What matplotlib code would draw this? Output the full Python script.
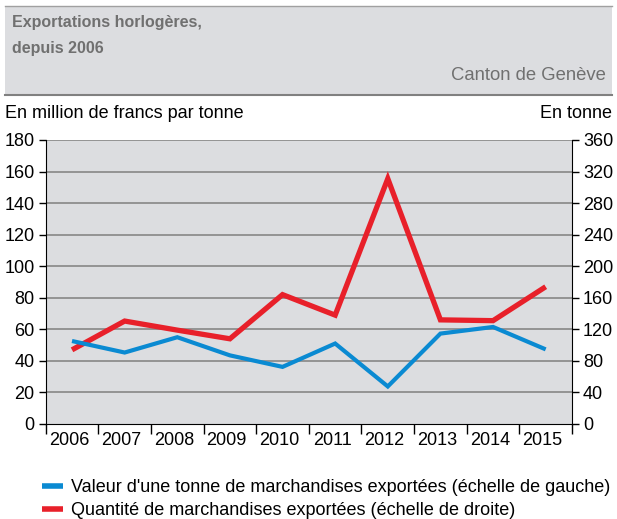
import numpy as np
import matplotlib
matplotlib.use("Agg")
import matplotlib.pyplot as plt
from matplotlib.patches import Rectangle
from matplotlib.lines import Line2D

plt.rcParams['font.family'] = ['Liberation Sans', 'DejaVu Sans']

years = ['2006', '2007', '2008', '2009', '2010', '2011', '2012', '2013', '2014', '2015']
# million francs per tonne (left axis)
valeur = [52.6, 45.3, 55.0, 43.5, 36.2, 51.0, 23.8, 57.3, 61.5, 47.3]
# tonnes (right axis)
quantite = [94, 130.5, 119, 108, 164, 138, 311, 132, 131, 174]

title = "Exportations horlogères,\ndepuis 2006"
subtitle = "Canton de Genève"
left_label = "En million de francs par tonne"
right_label = "En tonne"
legend_labels = ["Valeur d'une tonne de marchandises exportées (échelle de gauche)",
                 "Quantité de marchandises exportées (échelle de droite)"]

blue = '#0a8ad2'
red = '#e8202a'
bg = '#dcdde0'
grid_col = '#8e8e8e'
W, H = 617, 519


def main():
    fig = plt.figure(figsize=(W / 100, H / 100), dpi=100)

    # header box
    fig.patches.append(Rectangle((5 / W, 1 - 95 / H), 607 / W, 89 / H,
                                 transform=fig.transFigure, facecolor=bg,
                                 edgecolor='none', zorder=0))
    fig.add_artist(Line2D([5 / W, 612 / W], [1 - 6 / H, 1 - 6 / H],
                          transform=fig.transFigure, color='#a0a0a0', lw=1))
    fig.add_artist(Line2D([5 / W, 612 / W], [1 - 95 / H, 1 - 95 / H],
                          transform=fig.transFigure, color='#808080', lw=1.5))
    fig.text(12 / W, 1 - 23 / H, "Exportations horlogères,", ha='left',
             va='center', fontsize=11.5, fontweight='bold', color='#707070')
    fig.text(12 / W, 1 - 49 / H, "depuis 2006", ha='left',
             va='center', fontsize=11.5, fontweight='bold', color='#707070')
    fig.text(606 / W, 1 - 76 / H, subtitle, ha='right', va='center',
             fontsize=13.3, color='#707070')

    fig.text(5 / W, 1 - 114 / H, left_label, ha='left', va='center',
             fontsize=13, color='black')
    fig.text(612 / W, 1 - 114 / H, right_label, ha='right', va='center',
             fontsize=13, color='black')

    ax = fig.add_axes([45.7 / W, 1 - 424 / H, (572 - 45.7) / W, (424 - 140) / H])
    ax2 = ax.twinx()
    # left axes on top (for the blue line), right axes carries background
    ax.set_zorder(ax2.get_zorder() + 1)
    ax.patch.set_visible(False)
    ax2.patch.set_visible(True)
    ax2.set_facecolor(bg)

    x = np.arange(len(years))
    ax.set_xlim(-0.5, len(years) - 0.5)
    ax.set_ylim(0, 180)
    ax.set_yticks(np.arange(0, 181, 20))
    ax2.set_ylim(0, 360)
    ax2.set_yticks(np.arange(0, 361, 40))
    for yv in np.arange(40, 361, 40):
        ax2.axhline(yv, color=grid_col, lw=1.3, zorder=1)

    ax.set_xticks(np.arange(-0.5, len(years), 1))
    ax.set_xticklabels([])
    ax.set_xticks(x - 0.06, minor=True)
    ax.set_xticklabels(years, minor=True, fontsize=13)
    ax.tick_params(axis='x', which='major', length=7, width=1, direction='out')
    ax.tick_params(axis='x', which='minor', length=0, pad=6)
    ax.tick_params(axis='y', length=5, width=1, labelsize=13, pad=3)
    ax2.tick_params(axis='y', length=5, width=1, labelsize=13, pad=3)

    ax.spines['top'].set_visible(False)
    ax.spines['right'].set_visible(False)
    ax2.spines['top'].set_visible(False)
    ax2.spines['left'].set_visible(False)
    ax2.spines['bottom'].set_visible(False)

    ax2.plot(x, quantite, color=red, lw=3.8, solid_joinstyle='miter',
             solid_capstyle='butt', zorder=3)
    ax.plot(x, valeur, color=blue, lw=3.0, solid_joinstyle='miter',
            solid_capstyle='butt', zorder=3)

    handles = [Line2D([], [], color=blue, lw=4, solid_capstyle='butt'),
               Line2D([], [], color=red, lw=4, solid_capstyle='butt')]
    fig.legend(handles, legend_labels, loc='upper left',
               bbox_to_anchor=(42 / W, 1 - 479 / H), frameon=False,
               fontsize=13, handlelength=1.15, handletextpad=0.45,
               labelspacing=0.35, borderpad=0, borderaxespad=0)

    fig.savefig('out.png', dpi=100)


if __name__ == "__main__":
    main()
